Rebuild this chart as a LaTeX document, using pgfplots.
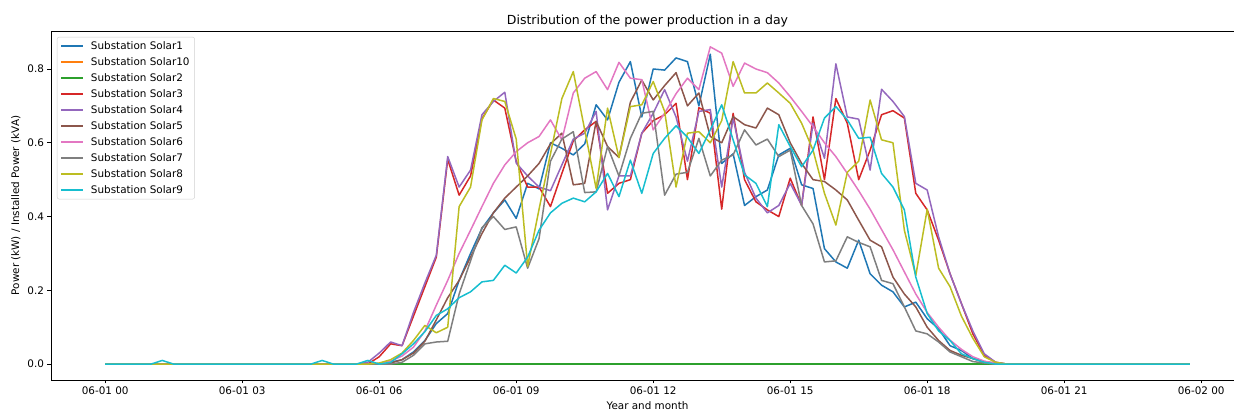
\documentclass[border=0pt]{standalone}
\usepackage{fontspec}
\setmainfont{DejaVu Sans}
\usepackage{pgfplots}
\usepackage{pgfplotstable}
\pgfplotsset{compat=1.18}

% matplotlib tab10 palette
\definecolor{c0}{HTML}{1F77B4}
\definecolor{c1}{HTML}{FF7F0E}
\definecolor{c2}{HTML}{2CA02C}
\definecolor{c3}{HTML}{D62728}
\definecolor{c4}{HTML}{9467BD}
\definecolor{c5}{HTML}{8C564B}
\definecolor{c6}{HTML}{E377C2}
\definecolor{c7}{HTML}{7F7F7F}
\definecolor{c8}{HTML}{BCBD22}
\definecolor{c9}{HTML}{17BECF}

% normalised power per 15-minute slot (hours since 06-01 00:00)
\pgfplotstableread{
t     s1    s10 s2 s3    s4     s5    s6     s7     s8    s9
0.00  0     0   0  0     0      0     0      0      0     0
0.25  0     0   0  0     0      0     0      0      0     0
0.50  0     0   0  0     0      0     0      0      0     0
0.75  0     0   0  0     0      0     0      0      0     0
1.00  0     0   0  0     0      0     0      0      0     0
1.25  0     0   0  0     0      0     0      0      0     0.01
1.50  0     0   0  0     0      0     0      0      0     0
1.75  0     0   0  0     0      0     0      0      0     0
2.00  0     0   0  0     0      0     0      0      0     0
2.25  0     0   0  0     0      0     0      0      0     0
2.50  0     0   0  0     0      0     0      0      0     0
2.75  0     0   0  0     0      0     0      0      0     0
3.00  0     0   0  0     0      0     0      0      0     0
3.25  0     0   0  0     0      0     0      0      0     0
3.50  0     0   0  0     0      0     0      0      0     0
3.75  0     0   0  0     0      0     0      0      0     0
4.00  0     0   0  0     0      0     0      0      0     0
4.25  0     0   0  0     0      0     0      0      0     0
4.50  0     0   0  0     0      0     0      0      0     0
4.75  0     0   0  0     0      0     0      0      0     0.01
5.00  0     0   0  0     0      0     0      0      0     0
5.25  0     0   0  0     0      0     0      0      0     0
5.50  0     0   0  0     0      0     0      0      0     0
5.75  0     0   0  0     0.005  0     0      0      0     0.01
6.00  0     0   0  0.02  0.03   0     0.002  0      0.003 0
6.25  0.005 0   0  0.055 0.06   0.003 0.008  0      0.012 0.005
6.50  0.012 0   0  0.05  0.05   0.012 0.022  0.005  0.03  0.028
6.75  0.033 0   0  0.13  0.14   0.03  0.046  0.024  0.064 0.055
7.00  0.064 0   0  0.21  0.22   0.062 0.09   0.055  0.105 0.088
7.25  0.11  0   0  0.29  0.295  0.12  0.16   0.06   0.085 0.132
7.50  0.137 0   0  0.555 0.5625 0.18  0.227  0.062  0.1   0.15
7.75  0.227 0   0  0.458 0.48   0.227 0.3    0.19   0.427 0.18
8.00  0.3   0   0  0.51  0.526  0.29  0.363  0.28   0.48  0.196
8.25  0.368 0   0  0.665 0.676  0.354 0.427  0.37   0.662 0.223
8.50  0.41  0   0  0.716 0.712  0.41  0.49   0.40   0.72  0.227
8.75  0.445 0   0  0.694 0.737  0.45  0.54   0.365  0.712 0.268
9.00  0.395 0   0  0.55  0.545  0.48  0.576  0.372  0.61  0.247
9.25  0.49  0   0  0.48  0.51   0.51  0.60   0.26   0.265 0.29
9.50  0.475 0   0  0.48  0.48   0.544 0.617  0.34   0.42  0.363
9.75  0.6   0   0  0.427 0.47   0.597 0.662  0.55   0.57  0.41
10.00 0.585 0   0  0.517 0.54   0.626 0.608  0.61   0.72  0.436
10.25 0.567 0   0  0.605 0.61   0.486 0.735  0.63   0.793 0.45
10.50 0.597 0   0  0.635 0.626  0.49  0.775  0.465  0.635 0.44
10.75 0.703 0   0  0.658 0.685  0.658 0.793  0.467  0.476 0.467
11.00 0.662 0   0  0.463 0.418  0.59  0.744  0.59   0.694 0.517
11.25 0.764 0   0  0.49  0.51   0.56  0.818  0.51   0.56  0.454
11.50 0.82  0   0  0.5   0.51   0.71  0.775  0.612  0.698 0.553
11.75 0.67  0   0  0.626 0.626  0.77  0.771  0.68   0.703 0.463
12.00 0.80  0   0  0.66  0.68   0.716 0.635  0.685  0.766 0.571
12.25 0.797 0   0  0.676 0.744  0.755 0.68   0.458  0.685 0.612
12.50 0.83  0   0  0.707 0.67   0.79  0.733  0.515  0.48  0.646
12.75 0.82  0   0  0.5   0.55   0.70  0.775  0.52   0.626 0.615
13.00 0.70  0   0  0.695 0.685  0.735 0.744  0.612  0.63  0.571
13.25 0.84  0   0  0.68  0.69   0.617 0.86   0.51   0.60  0.635
13.50 0.544 0   0  0.42  0.48   0.60  0.843  0.553  0.66  0.703
13.75 0.57  0   0  0.68  0.667  0.671 0.753  0.567  0.82  0.608
14.00 0.43  0   0  0.5   0.52   0.649 0.816  0.635  0.735 0.513
14.25 0.454 0   0  0.44  0.45   0.64  0.80   0.594  0.735 0.49
14.50 0.472 0   0  0.418 0.41   0.694 0.79   0.61   0.762 0.427
14.75 0.567 0   0  0.40  0.43   0.676 0.762  0.5625 0.735 0.649
15.00 0.585 0   0  0.504 0.49   0.60  0.725  0.58   0.707 0.59
15.25 0.486 0   0  0.43  0.431  0.544 0.685  0.43   0.653 0.535
15.50 0.476 0   0  0.67  0.653  0.50  0.644  0.38   0.58  0.58
15.75 0.313 0   0  0.5   0.558  0.495 0.60   0.277  0.463 0.667
16.00 0.277 0   0  0.72  0.814  0.472 0.5625 0.28   0.377 0.698
16.25 0.26  0   0  0.653 0.67   0.445 0.517  0.345  0.52  0.662
16.50 0.336 0   0  0.5   0.664  0.39  0.47   0.33   0.55  0.612
16.75 0.245 0   0  0.58  0.526  0.336 0.42   0.318  0.716 0.615
17.00 0.214 0   0  0.676 0.745  0.318 0.365  0.227  0.608 0.517
17.25 0.196 0   0  0.687 0.712  0.236 0.31   0.218  0.60  0.48
17.50 0.155 0   0  0.667 0.671  0.19  0.25   0.155  0.363 0.418
17.75 0.168 0   0  0.463 0.49   0.155 0.19   0.09   0.24  0.236
18.00 0.123 0   0  0.418 0.472  0.10  0.14   0.082  0.42  0.137
18.25 0.096 0   0  0.336 0.345  0.064 0.10   0.06   0.26  0.09
18.50 0.05  0   0  0.245 0.245  0.037 0.065  0.033  0.21  0.064
18.75 0.037 0   0  0.164 0.164  0.024 0.04   0.02   0.13  0.028
19.00 0.015 0   0  0.082 0.09   0.015 0.02   0.007  0.07  0.015
19.25 0.005 0   0  0.024 0.028  0.007 0.008  0.003  0.02  0.005
19.50 0     0   0  0.005 0.005  0.003 0.002  0      0.005 0
19.75 0     0   0  0     0      0     0      0      0     0
20.00 0     0   0  0     0      0     0      0      0     0
20.25 0     0   0  0     0      0     0      0      0     0
20.50 0     0   0  0     0      0     0      0      0     0
20.75 0     0   0  0     0      0     0      0      0     0
21.00 0     0   0  0     0      0     0      0      0     0
21.25 0     0   0  0     0      0     0      0      0     0
21.50 0     0   0  0     0      0     0      0      0     0
21.75 0     0   0  0     0      0     0      0      0     0
22.00 0     0   0  0     0      0     0      0      0     0
22.25 0     0   0  0     0      0     0      0      0     0
22.50 0     0   0  0     0      0     0      0      0     0
22.75 0     0   0  0     0      0     0      0      0     0
23.00 0     0   0  0     0      0     0      0      0     0
23.25 0     0   0  0     0      0     0      0      0     0
23.50 0     0   0  0     0      0     0      0      0     0
23.75 0     0   0  0     0      0     0      0      0     0
}\power

\newcommand\lblfont{\fontsize{10.4}{12.5}\selectfont}

\begin{document}
\begin{tikzpicture}
% page frame: the plot area runs on past the right edge of the page
\useasboundingbox (-51pt,-32pt) rectangle (1183pt,380pt);
\begin{axis}[
  at={(0,0)}, anchor=south west,
  scale only axis, width=1193pt, height=349pt,
  xmin=-1.1875, xmax=24.9375,
  ymin=-0.043, ymax=0.903,
  axis line style={black, line width=0.8pt},
  tick align=outside, tick pos=left,
  major tick length=3.5pt,
  every tick/.style={black, line width=0.8pt},
  xtick={0,3,...,24},
  xticklabels={06-01 00,06-01 03,06-01 06,06-01 09,06-01 12,06-01 15,06-01 18,06-01 21,06-02 00},
  ytick={0,0.2,0.4,0.6,0.8},
  yticklabel style={/pgf/number format/.cd, fixed, fixed zerofill, precision=1},
  /pgf/number format/assume math mode=true,
  tick label style={font=\lblfont},
  title={Distribution of the power production in a day},
  title style={font=\fontsize{12.5}{15}\selectfont, yshift=-6pt},
  xlabel={Year and month},
  ylabel={Power (kW) / Installed Power (kVA)},
  label style={font=\lblfont},
  legend cell align=left,
  legend style={at={(0.005,0.983)}, anchor=north west, draw=black!18,
    rounded corners=2pt, fill=white, font=\lblfont, inner sep=3pt,
    row sep=4pt, column sep=5pt,
    nodes={text height=9pt, text depth=3pt, inner ysep=0pt, inner xsep=2pt}},
  legend image code/.code={\draw[#1, line width=1.8pt] (0pt,0pt) -- (22pt,0pt);},
  every axis plot/.append style={line width=1.5pt, line join=round, mark=none},
]
\addplot[c0] table[x=t, y=s1]  {\power}; \addlegendentry{Substation Solar1}
\addplot[c1] table[x=t, y=s10] {\power}; \addlegendentry{Substation Solar10}
\addplot[c2] table[x=t, y=s2]  {\power}; \addlegendentry{Substation Solar2}
\addplot[c3] table[x=t, y=s3]  {\power}; \addlegendentry{Substation Solar3}
\addplot[c4] table[x=t, y=s4]  {\power}; \addlegendentry{Substation Solar4}
\addplot[c5] table[x=t, y=s5]  {\power}; \addlegendentry{Substation Solar5}
\addplot[c6] table[x=t, y=s6]  {\power}; \addlegendentry{Substation Solar6}
\addplot[c7] table[x=t, y=s7]  {\power}; \addlegendentry{Substation Solar7}
\addplot[c8] table[x=t, y=s8]  {\power}; \addlegendentry{Substation Solar8}
\addplot[c9] table[x=t, y=s9]  {\power}; \addlegendentry{Substation Solar9}
\end{axis}
\end{tikzpicture}
\end{document}
